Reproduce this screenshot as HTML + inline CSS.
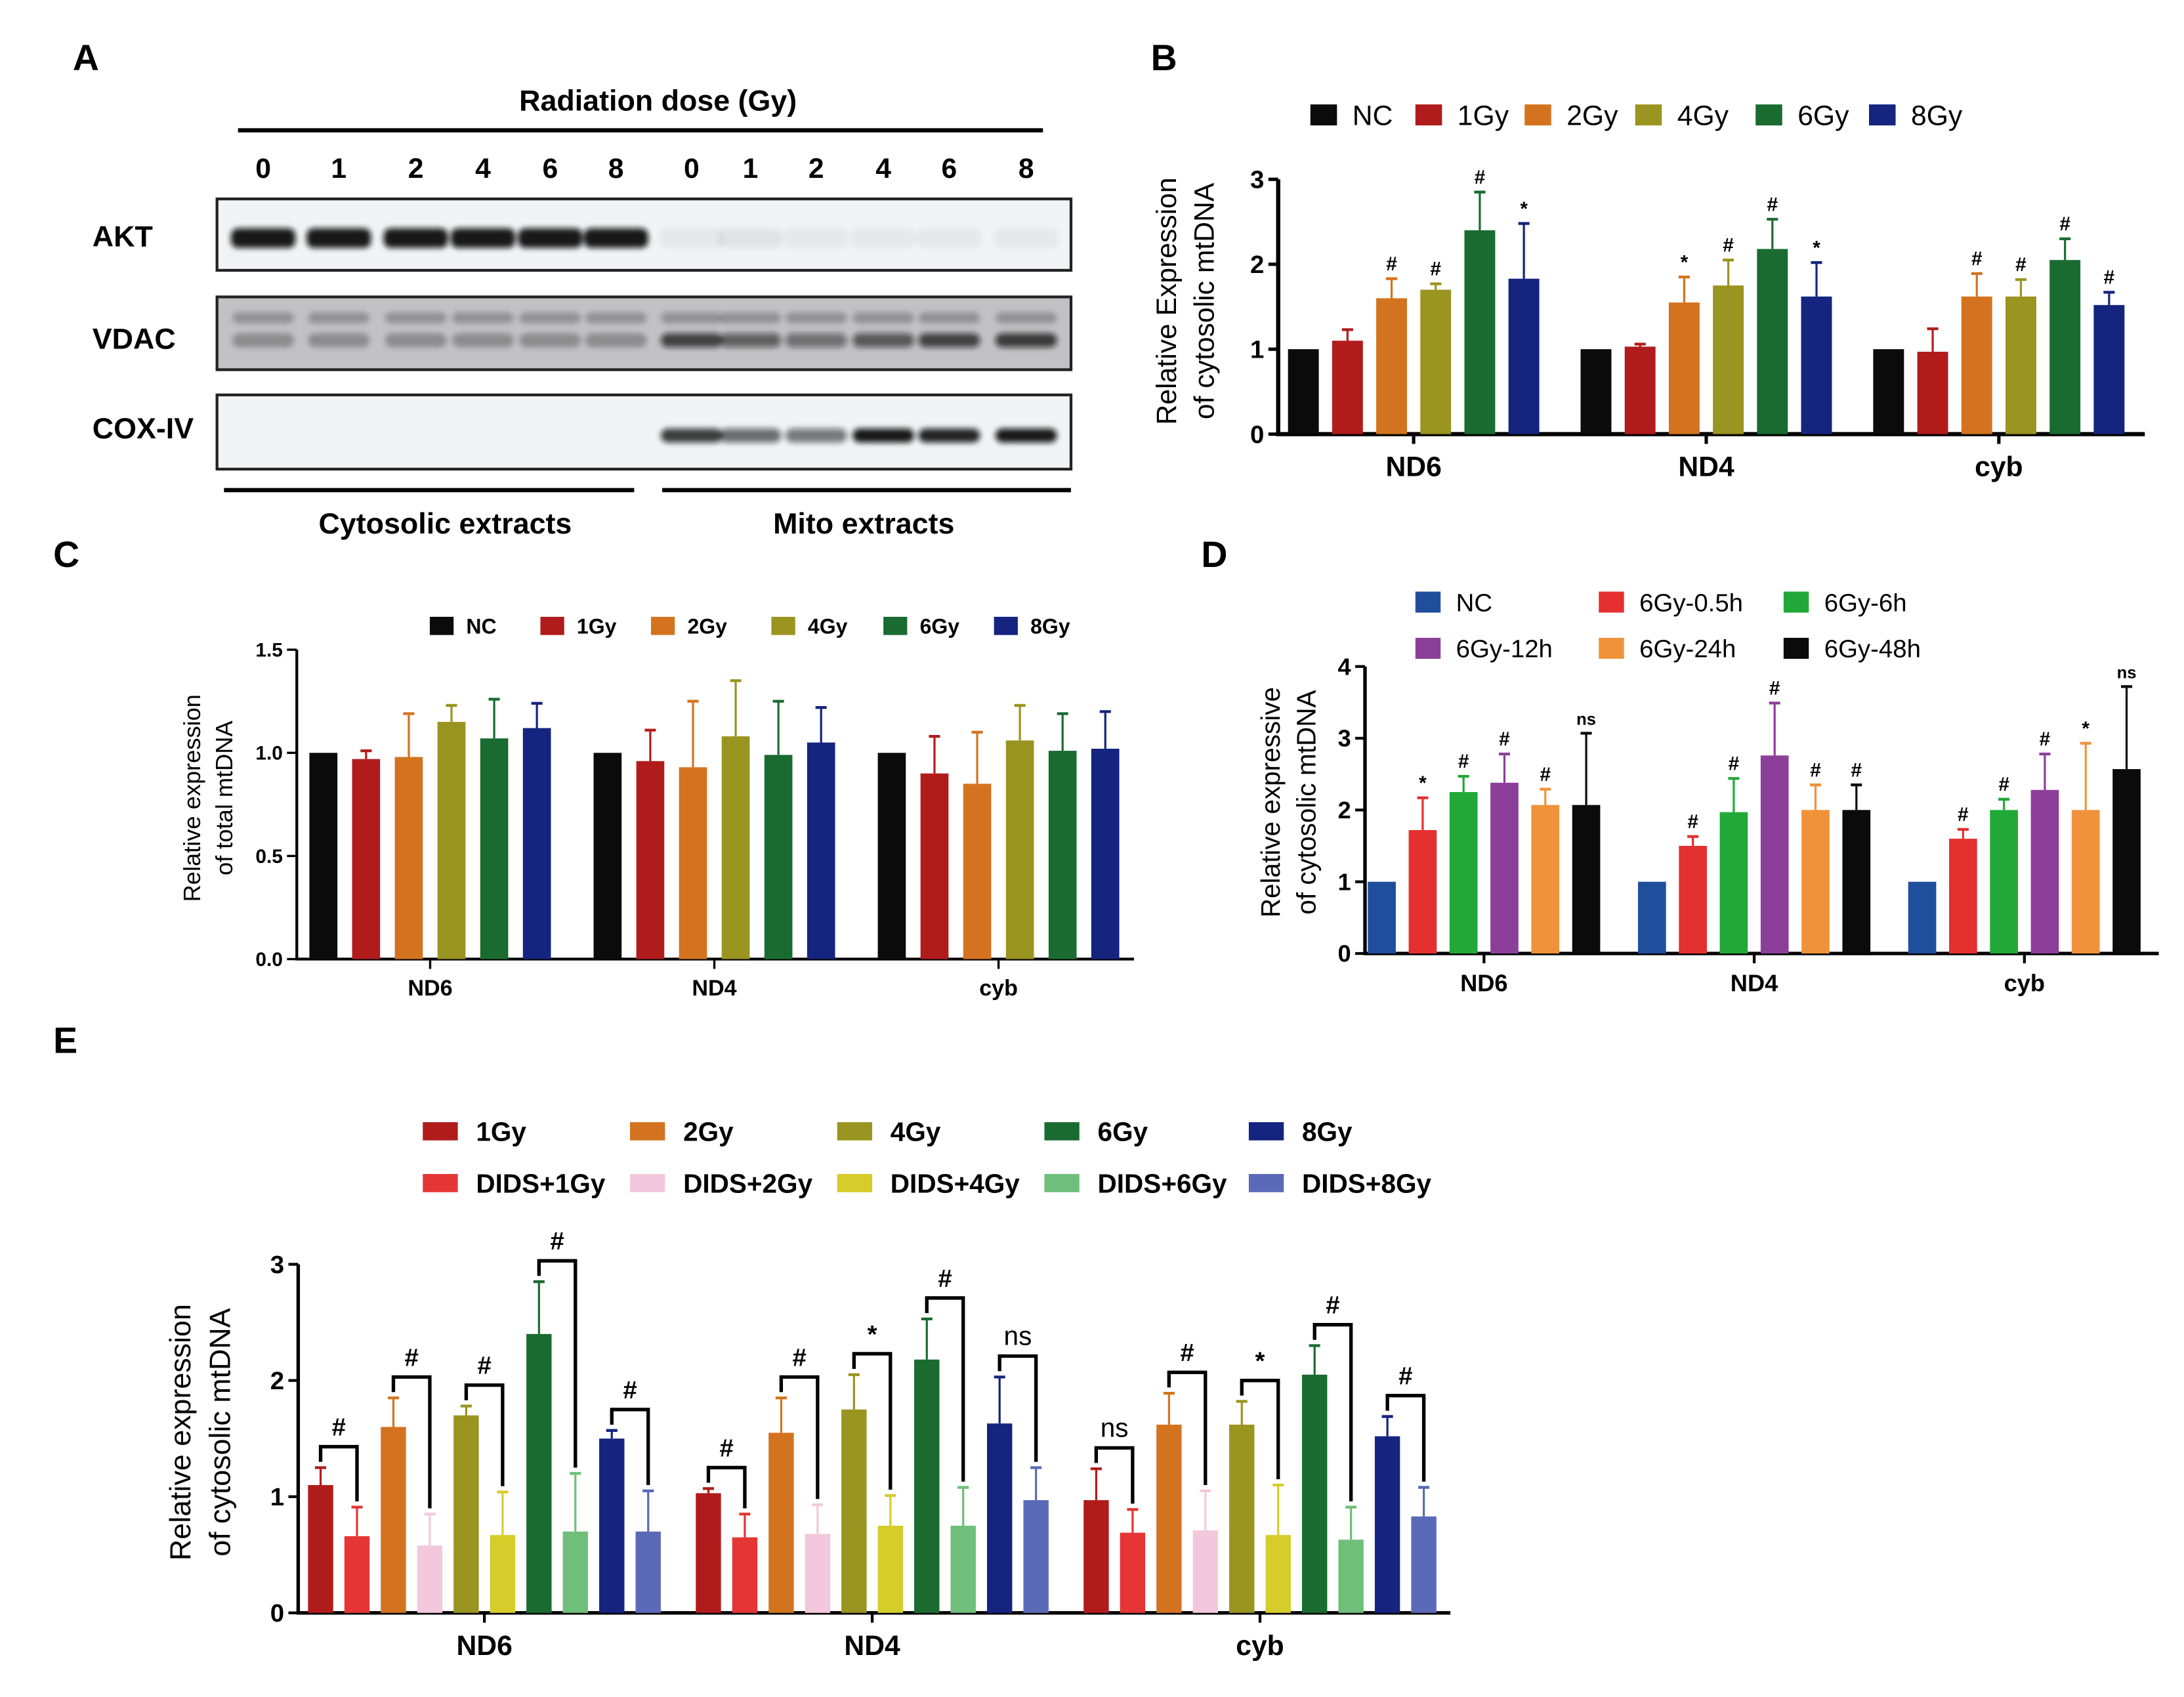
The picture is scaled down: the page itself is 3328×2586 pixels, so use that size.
<!DOCTYPE html>
<html><head><meta charset="utf-8"><style>
html,body{margin:0;padding:0;background:#fff}
svg{display:block;font-family:"Liberation Sans",Arial,sans-serif}
</style></head><body>
<svg id="fig" width="3328" height="2586" viewBox="0 0 1560 1212" xmlns="http://www.w3.org/2000/svg">
<defs><filter id="blur" x="-20%" y="-50%" width="140%" height="200%"><feGaussianBlur stdDeviation="2"/></filter></defs>
<g>
<text x="52" y="50" font-size="26" font-weight="bold">A</text>
<text x="470" y="79" font-size="21" font-weight="bold" text-anchor="middle">Radiation dose (Gy)</text>
<line x1="170" y1="93" x2="745" y2="93" stroke="#000" stroke-width="3"/>
<g id="lanes" font-size="20" font-weight="bold" text-anchor="middle"></g>
<text x="66" y="176" font-size="21" font-weight="bold">AKT</text>
<text x="66" y="249" font-size="21" font-weight="bold">VDAC</text>
<text x="66" y="313" font-size="21" font-weight="bold">COX-IV</text>
<rect x="155" y="142" width="610" height="51" fill="#f2f3f6" stroke="#222" stroke-width="2"/>
<rect x="155" y="212" width="610" height="52" fill="#c2c2c4" stroke="#222" stroke-width="2"/>
<rect x="155" y="282" width="610" height="53" fill="#f2f3f6" stroke="#222" stroke-width="2"/>
<g id="bands" filter="url(#blur)"></g>
<line x1="160" y1="350" x2="453" y2="350" stroke="#000" stroke-width="3"/>
<line x1="473" y1="350" x2="765" y2="350" stroke="#000" stroke-width="3"/>
<text x="318" y="381" font-size="21" font-weight="bold" text-anchor="middle">Cytosolic extracts</text>
<text x="617" y="381" font-size="21" font-weight="bold" text-anchor="middle">Mito extracts</text>
</g>
<text x="822" y="50" font-size="26" font-weight="bold">B</text>
<text x="38" y="405" font-size="26" font-weight="bold">C</text>
<text x="858" y="405" font-size="26" font-weight="bold">D</text>
<text x="38" y="752" font-size="26" font-weight="bold">E</text>
<g id="charts"></g>
</svg>
<script>
var NS="http://www.w3.org/2000/svg";
function el(p,tag,a,txt){var e=document.createElementNS(NS,tag);for(var k in a)e.setAttribute(k,a[k]);if(txt!==undefined)e.textContent=txt;p.appendChild(e);return e;}
var laneLabels=["0","1","2","4","6","8","0","1","2","4","6","8"];
var laneX=[188,242,297,345,393,440,494,536,583,631,678,733];
var aktInt=[1,1,1,1,1,1,0.05,0.07,0.05,0.05,0.05,0.05];
var vdacInt=[0.35,0.35,0.35,0.35,0.35,0.35,0.9,0.7,0.6,0.75,0.9,0.95];
var coxInt=[0,0,0,0,0,0,0.8,0.6,0.55,0.95,0.9,0.95];
var L=document.getElementById('lanes'),B=document.getElementById('bands');
laneLabels.forEach(function(t,i){var e=el(L,'text',{x:laneX[i],y:127},t);


function band(y,h,a,w){if(a<=0)return;var r=el(B,'rect',{x:laneX[i]-w/2,y:y,width:w,height:h,rx:5,fill:'#111','fill-opacity':a});

}
band(163,14,aktInt[i]*0.95,46);
band(238,10,vdacInt[i]*0.8,44);band(223,8,0.25,44);
band(306,10,coxInt[i],44);
});
var C=document.getElementById('charts');

var bCats=["ND6","ND4","cyb"];
var bSeries=["NC","1Gy","2Gy","4Gy","6Gy","8Gy"];
var bVals=[[1,1.1,1.6,1.7,2.4,1.83],[1,1.03,1.55,1.75,2.18,1.62],[1,0.97,1.62,1.62,2.05,1.52]];
var bErr=[[0,0.13,0.23,0.07,0.45,0.65],[0,0.03,0.3,0.3,0.35,0.4],[0,0.27,0.27,0.2,0.25,0.15]];
var bSig=[["","","#","#","#","*"],["","","*","#","#","*"],["","","#","#","#","#"]];
var bTicks=["0","1","2","3"];
var cCats=["ND6","ND4","cyb"];
var cVals=[[1,0.97,0.98,1.15,1.07,1.12],[1,0.96,0.93,1.08,0.99,1.05],[1,0.9,0.85,1.06,1.01,1.02]];
var cErr=[[0,0.04,0.21,0.08,0.19,0.12],[0,0.15,0.32,0.27,0.26,0.17],[0,0.18,0.25,0.17,0.18,0.18]];
var cTicks=["0.0","0.5","1.0","1.5"];
var dCats=["ND6","ND4","cyb"];
var dSeries=["NC","6Gy-0.5h","6Gy-6h","6Gy-12h","6Gy-24h","6Gy-48h"];
var dVals=[[1,1.72,2.25,2.38,2.07,2.07],[1,1.5,1.97,2.76,2.0,2.0],[1,1.6,2.0,2.28,2.0,2.57]];
var dErr=[[0,0.45,0.22,0.4,0.22,1.0],[0,0.13,0.47,0.73,0.35,0.35],[0,0.13,0.15,0.5,0.93,1.15]];
var dSig=[["","*","#","#","#","ns"],["","#","#","#","#","#"],["","#","#","#","*","ns"]];
var dTicks=["0","1","2","3","4"];
var eCats=["ND6","ND4","cyb"];
var eSeries=["1Gy","DIDS+1Gy","2Gy","DIDS+2Gy","4Gy","DIDS+4Gy","6Gy","DIDS+6Gy","8Gy","DIDS+8Gy"];
var eVals=[[1.1,0.66,1.6,0.58,1.7,0.67,2.4,0.7,1.5,0.7],[1.03,0.65,1.55,0.68,1.75,0.75,2.18,0.75,1.63,0.97],[0.97,0.69,1.62,0.71,1.62,0.67,2.05,0.63,1.52,0.83]];
var eErr=[[0.15,0.25,0.25,0.27,0.08,0.37,0.45,0.5,0.07,0.35],[0.04,0.2,0.3,0.25,0.3,0.26,0.35,0.33,0.4,0.28],[0.27,0.2,0.27,0.34,0.2,0.43,0.25,0.28,0.17,0.25]];
var eSig=[["#","#","#","#","#"],["#","#","*","#","ns"],["ns","#","*","#","#"]];
var eTicks=["0","1","2","3"];

var cols6=["#0b0b0b","#b01c1c","#d4731f","#9a9420","#1a6b30","#14247f"];
var colsD=["#1f4e9c","#e53030","#22a838","#8c3f98","#f0923a","#0b0b0b"];
var colsE=["#b01c1c","#e53535","#d4731f","#f3c8dc","#9a9420","#d6cc2a","#1a6b30","#6fbf7a","#14247f","#5b6ab8"];

function chart(o){
 var g=el(C,'g',{});
 
 
 var tmax=parseFloat(o.ticks[o.ticks.length-1]);
 function y(v){return o.y0-(v/tmax)*(o.y0-o.yTop);}
 function x(gi,si){return o.gx0+gi*o.gstep+si*o.bstep;}
 var ya=el(g,'line',{x1:o.ax,y1:o.y0,x2:o.ax,y2:o.yTop,stroke:'#000','stroke-width':o.lw});
 
 var xa=el(g,'line',{x1:o.ax-o.lw/2,y1:o.y0,x2:o.xEnd,y2:o.y0,stroke:'#000','stroke-width':o.lw});
 
 o.ticks.forEach(function(t){var v=parseFloat(t),yy=y(v);
  el(g,'line',{x1:o.ax-7,y1:yy,x2:o.ax,y2:yy,stroke:'#000','stroke-width':o.lw*0.8});
  var tt=el(g,'text',{x:o.ax-10,y:yy+o.tfs*0.35,'font-size':o.tfs,'font-weight':'bold','text-anchor':'end'},t);
  });
 o.cats.forEach(function(c,gi){
  var n=o.vals[gi].length,cx=(x(gi,0)+x(gi,n-1))/2+o.bw/2;
  el(g,'line',{x1:cx,y1:o.y0,x2:cx,y2:o.y0+7,stroke:'#000','stroke-width':o.lw*0.8});
  var ct=el(g,'text',{x:cx,y:o.y0+o.cfs+10,'font-size':o.cfs,'font-weight':'bold','text-anchor':'middle'},c);
  
  o.vals[gi].forEach(function(v,si){
   var bx=x(gi,si),by=y(v),col=o.cols[si],e=o.err[gi][si];
   if(e>0){var ey=y(v+e);
    el(g,'line',{x1:bx+o.bw/2,y1:by,x2:bx+o.bw/2,y2:ey,stroke:col,'stroke-width':1.5});
    el(g,'line',{x1:bx+o.bw/2-4,y1:ey,x2:bx+o.bw/2+4,y2:ey,stroke:col,'stroke-width':2});}
   var r=el(g,'rect',{x:bx,y:by,width:o.bw,height:o.y0-by,fill:col});
   
   
   if(o.sig&&o.sig[gi][si]){var s=o.sig[gi][si];
    var st=el(g,'text',{x:bx+o.bw/2,y:y(v+e)-6,'font-size':s=='ns'?12:14,'font-weight':'bold','text-anchor':'middle'},s);
    }
  });
 });
 var yl=el(g,'text',{transform:'translate('+o.ylx+','+o.ylc+') rotate(-90)','font-size':o.ylfs,'text-anchor':'middle'});
 
 el(yl,'tspan',{x:0,y:0},o.yl[0]);el(yl,'tspan',{x:0,y:o.ylfs*1.35},o.yl[1]);
 o.series.forEach(function(s,si){var p=o.legPos(si);
  var lg=el(g,'g',{});
  el(lg,'rect',{x:p[0],y:p[1]-o.sh/2,width:o.sw,height:o.sh,fill:o.cols[si]});
  el(lg,'text',{x:p[0]+o.sw+o.lgap,y:p[1]+o.lfs*0.36,'font-size':o.lfs,'font-weight':o.lbold?'bold':'normal'},s);});
 return {g:g,x:x,y:y};
}
chart({name:'chart-b',cats:bCats,series:bSeries,vals:bVals,err:bErr,sig:bSig,ticks:bTicks,cols:cols6,
 ax:913,y0:310,yTop:128,xEnd:1532,gx0:920,gstep:209,bstep:31.5,bw:22,lw:3,tfs:18,cfs:20,
 ylx:840,ylc:215,ylfs:20,yl:["Relative Expression","of cytosolic mtDNA"],
 legPos:function(i){return [[936,1011,1089,1168,1254,1335][i],82];},sw:19,sh:15,lgap:11,lfs:20,lbold:false});
chart({name:'chart-c',cats:cCats,series:bSeries,vals:cVals,err:cErr,ticks:cTicks,cols:cols6,
 ax:212,y0:685,yTop:464,xEnd:810,gx0:221,gstep:203,bstep:30.5,bw:20,lw:2,tfs:14,cfs:16,
 ylx:143,ylc:570,ylfs:17,yl:["Relative expression","of total mtDNA"],
 legPos:function(i){return [[307,386,465,551,631,710][i],447];},sw:17,sh:13,lgap:9,lfs:15,lbold:true});
chart({name:'chart-d',cats:dCats,series:dSeries,vals:dVals,err:dErr,sig:dSig,ticks:dTicks,cols:colsD,
 ax:975,y0:681,yTop:476,xEnd:1542,gx0:977,gstep:193,bstep:29.2,bw:20,lw:2.5,tfs:17,cfs:17,
 ylx:914,ylc:573,ylfs:19,yl:["Relative expressive","of cytosolic mtDNA"],
 legPos:function(i){return [[1011,1142,1274,1011,1142,1274][i],i<3?430:463];},sw:18,sh:15,lgap:11,lfs:18,lbold:false});
var E=chart({name:'chart-e',cats:eCats,series:eSeries,vals:eVals,err:eErr,ticks:eTicks,cols:colsE,
 ax:213,y0:1152,yTop:903,xEnd:1036,gx0:220,gstep:277,bstep:26,bw:18,lw:2.5,tfs:18,cfs:20,
 ylx:136,ylc:1023,ylfs:21,yl:["Relative expression","of cytosolic mtDNA"],
 legPos:function(i){return [[302,450,598,746,892][i>>1],(i%2)?845:808];},sw:25,sh:13,lgap:13,lfs:19,lbold:true});
eCats.forEach(function(c,gi){for(var p=0;p<5;p++){
 var i1=2*p,i2=2*p+1,x1=E.x(gi,i1)+9,x2=E.x(gi,i2)+9;
 var t1=eVals[gi][i1]+eErr[gi][i1],t2=eVals[gi][i2]+eErr[gi][i2];
 var top=Math.max(t1,t2)+0.18;
 var br=el(E.g,'path',{d:'M'+x1+' '+E.y(t1+0.05)+' V'+E.y(top)+' H'+x2+' V'+E.y(t2+0.05),fill:'none',stroke:'#000','stroke-width':2.5});
 
 
 var s=eSig[gi][p];
 var st=el(E.g,'text',{x:(x1+x2)/2,y:E.y(top)-8,'font-size':s=='ns'?19:18,'font-weight':s=='ns'?'normal':'bold','text-anchor':'middle'},s);
 
 
}});
</script>
</body></html>
